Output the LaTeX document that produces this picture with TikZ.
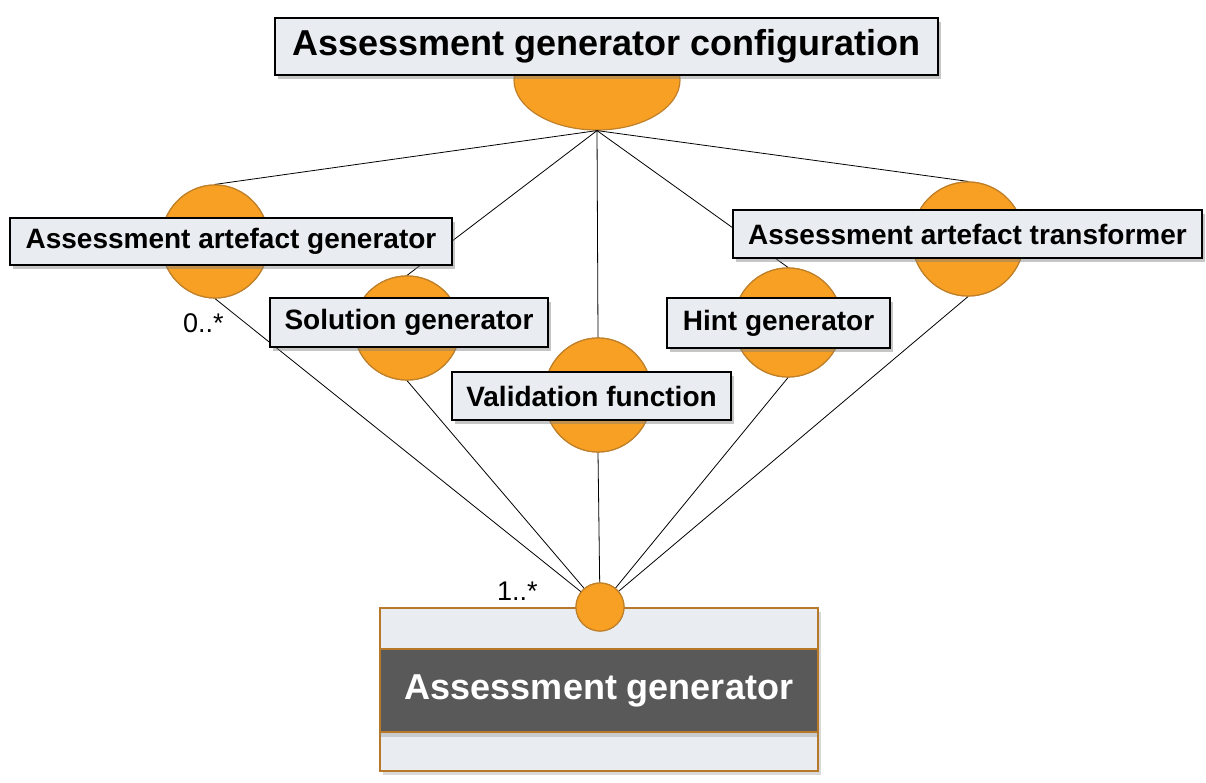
\documentclass[tikz,border=0pt]{standalone}
\usepackage{fontspec}
\setmainfont{Liberation Sans}
\usetikzlibrary{shapes.geometric,shadows}
\definecolor{orfill}{HTML}{F7A023}
\definecolor{ordraw}{HTML}{C0802A}
\definecolor{lblfill}{HTML}{E9EDF1}
\definecolor{darkband}{HTML}{595959}
\definecolor{boxedge}{HTML}{B8782A}
\tikzset{
  ell/.style={ellipse, fill=orfill, draw=ordraw, line width=1.2pt, inner sep=0pt},
  lbl/.style={rectangle, fill=lblfill, draw=black, line width=1.4pt, inner sep=0pt,
    font=\fontsize{28}{32}\selectfont\bfseries,
    drop shadow={shadow xshift=3pt, shadow yshift=-4pt, opacity=0.45, fill=gray}},
  conn/.style={draw=black, line width=0.8pt},
  mult/.style={font=\fontsize{27}{30}\selectfont, inner sep=0pt, anchor=base west}
}
\begin{document}
\begin{tikzpicture}[x=1pt,y=-1pt]
\useasboundingbox (0,0) rectangle (1206,783);
% circles
\node[ell, minimum width=166pt, minimum height=100pt] (cfg) at (597,80) {};
\node[ell, minimum width=108pt, minimum height=113pt] (aag) at (215,241.5) {};
\node[ell, minimum width=106pt, minimum height=104pt] (sol) at (407,328) {};
\node[ell, minimum width=108pt, minimum height=114pt] (val) at (598,395) {};
\node[ell, minimum width=108pt, minimum height=109pt] (hint) at (788,322.5) {};
\node[ell, minimum width=112pt, minimum height=114pt] (trf) at (968,239) {};
% class box
\node[rectangle, fill=lblfill, draw=boxedge, line width=1.4pt, minimum width=438pt, minimum height=163pt, inner sep=0pt,
  drop shadow={shadow xshift=3pt, shadow yshift=-4pt, opacity=0.3, fill=gray}] (cls) at (599,689.5) {};
\node[rectangle, fill=darkband, draw=boxedge, line width=1.4pt, minimum width=438pt, minimum height=83pt, inner sep=0pt,
  text=white, font=\fontsize{36}{40}\selectfont\bfseries,
  drop shadow={shadow xshift=0pt, shadow yshift=-5pt, opacity=0.3, fill=gray}] (band) at (599,690.5) {Assessment generator};
\node[circle, fill=orfill, draw=ordraw, line width=1.2pt, minimum size=48pt, inner sep=0pt] (dot) at (600,607) {};
% connectors
\draw[conn] (cfg.south) -- (aag.north);
\draw[conn] (cfg.south) -- (sol.north);
\draw[conn] (cfg.south) -- (val.north);
\draw[conn] (cfg.south) -- (hint.north);
\draw[conn] (cfg.south) -- (trf.north);
\draw[conn] (aag.south) -- (dot);
\draw[conn] (sol.south) -- (dot);
\draw[conn] (val.south) -- (dot);
\draw[conn] (hint.south) -- (dot);
\draw[conn] (trf.south) -- (dot);
% redraw circles over lines
\node[ell, minimum width=108pt, minimum height=113pt] at (215,241.5) {};
\node[ell, minimum width=106pt, minimum height=104pt] at (407,328) {};
\node[ell, minimum width=108pt, minimum height=114pt] at (598,395) {};
\node[ell, minimum width=108pt, minimum height=109pt] at (788,322.5) {};
\node[ell, minimum width=112pt, minimum height=114pt] at (968,239) {};
\node[circle, fill=orfill, draw=ordraw, line width=1.2pt, minimum size=48pt, inner sep=0pt] at (600,607) {};
% labels
\node[lbl, minimum width=663pt, minimum height=57pt, font=\fontsize{36}{40}\selectfont\bfseries] (cfgl) at (606.5,46.5) {Assessment generator configuration};
\node[lbl, minimum width=442pt, minimum height=47pt] (aagl) at (231,241.5) {Assessment artefact generator};
\node[lbl, minimum width=278pt, minimum height=49pt] (soll) at (409,322.5) {Solution generator};
\node[lbl, minimum width=279pt, minimum height=48pt] (vall) at (591.5,396) {Validation function};
\node[lbl, minimum width=223pt, minimum height=50pt] (hintl) at (778.5,323) {Hint generator};
\node[lbl, minimum width=469pt, minimum height=48pt] (trfl) at (967.5,234) {Assessment artefact transformer};
% multiplicities
\node[mult] (m0) at (183,332) {0..*};
\node[mult] (m1) at (497,600) {1..*};
\end{tikzpicture}
\end{document}
